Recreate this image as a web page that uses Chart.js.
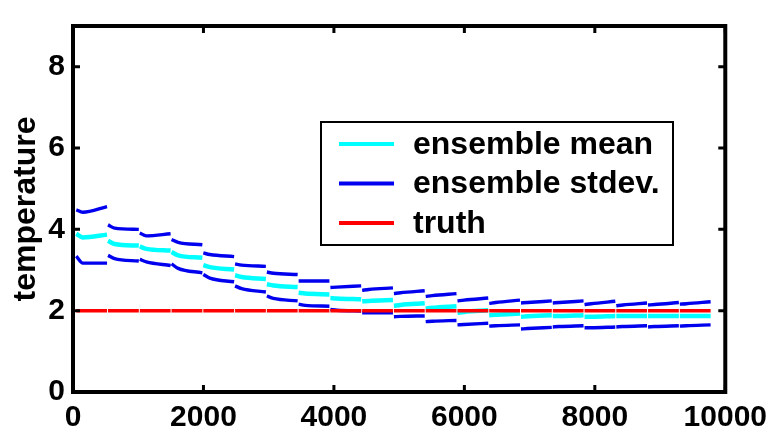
<!DOCTYPE html>
<html>
<head>
<meta charset="utf-8">
<script src="https://cdn.jsdelivr.net/npm/chart.js@4"></script>
<style>
  html, body { margin: 0; padding: 0; background: #fff; }
  #wrap { width: 775px; height: 438px; }
</style>
</head>
<body>
<div id="wrap"><canvas id="tempChart" width="775" height="438"></canvas></div>
<script>
// analysis cycles: start time of every forecast segment
const cycleStart = [50, 537, 1024, 1511, 1998, 2485, 2972, 3459, 3946, 4433,
                    4920, 5407, 5894, 6381, 6868, 7355, 7842, 8329, 8816, 9303];
// times inside one segment where the values were read
const sampleOffset = [0, 100, 472];

// ensemble mean, read at [start, +100, end] of each segment
const meanValues = [
    [3.89, 3.80, 3.87], [3.72, 3.64, 3.60], [3.58, 3.52, 3.48], [3.44, 3.36, 3.30],
    [3.12, 3.07, 3.01], [2.87, 2.83, 2.78], [2.65, 2.62, 2.58], [2.44, 2.42, 2.40],
    [2.31, 2.30, 2.28], [2.23, 2.24, 2.26], [2.12, 2.14, 2.18], [2.05, 2.07, 2.11],
    [1.95, 1.97, 2.01], [1.89, 1.90, 1.93], [1.85, 1.86, 1.89], [1.87, 1.87, 1.89],
    [1.85, 1.85, 1.87], [1.87, 1.87, 1.87], [1.87, 1.87, 1.87], [1.87, 1.87, 1.87]
];
// mean + stdev
const upperValues = [
    [4.48, 4.42, 4.56], [4.11, 4.03, 4.00], [3.91, 3.84, 3.89], [3.75, 3.68, 3.62],
    [3.42, 3.38, 3.33], [3.15, 3.12, 3.09], [2.95, 2.92, 2.89], [2.73, 2.73, 2.73],
    [2.57, 2.58, 2.61], [2.50, 2.52, 2.56], [2.42, 2.44, 2.49], [2.35, 2.37, 2.42],
    [2.24, 2.26, 2.31], [2.18, 2.20, 2.26], [2.19, 2.20, 2.24], [2.19, 2.20, 2.24],
    [2.15, 2.17, 2.23], [2.12, 2.14, 2.19], [2.14, 2.15, 2.20], [2.16, 2.17, 2.22]
];
// mean - stdev
const lowerValues = [
    [3.34, 3.17, 3.17], [3.36, 3.28, 3.22], [3.26, 3.20, 3.11], [3.15, 3.04, 2.93],
    [2.89, 2.80, 2.71], [2.61, 2.54, 2.46], [2.36, 2.30, 2.24], [2.16, 2.13, 2.11],
    [2.03, 2.01, 1.99], [1.95, 1.95, 1.95], [1.85, 1.86, 1.87], [1.73, 1.74, 1.76],
    [1.65, 1.66, 1.69], [1.62, 1.63, 1.65], [1.55, 1.56, 1.59], [1.60, 1.61, 1.63],
    [1.58, 1.58, 1.60], [1.60, 1.61, 1.63], [1.60, 1.61, 1.63], [1.62, 1.63, 1.65]
];
// true state in every segment
const truthValues = [2, 2, 2, 2, 2, 2, 2, 2, 2, 2, 2, 2, 2, 2, 2, 2, 2, 2, 2, 2];

const xTicks = [0, 2000, 4000, 6000, 8000, 10000];
const yTicks = [0, 2, 4, 6, 8];

const FONT = '"Liberation Sans", Arial, Helvetica, sans-serif';

// one point list per series, segments split by a null point
function segmentPoints(values) {
    const pts = [];
    values.forEach((seg, k) => {
        const vals = Array.isArray(seg) ? seg : [seg, seg, seg];
        sampleOffset.forEach((off, j) => {
            pts.push({ x: cycleStart[k] + off, y: vals[j] });
        });
        pts.push({ x: cycleStart[k] + sampleOffset[sampleOffset.length - 1] + 1, y: null });
    });
    return pts;
}

// box, inward ticks (MATLAB style) and legend
const framePlugin = {
    id: 'frame',
    afterDraw(chart) {
        const { ctx, chartArea: a, scales } = chart;
        ctx.save();
        ctx.strokeStyle = '#000';
        ctx.lineWidth = 4;
        ctx.strokeRect(a.left, a.top, a.right - a.left, a.bottom - a.top);

        ctx.lineWidth = 3;
        const tl = 7;
        ctx.beginPath();
        xTicks.forEach(v => {
            const px = scales.x.getPixelForValue(v);
            ctx.moveTo(px, a.bottom); ctx.lineTo(px, a.bottom - tl);
            ctx.moveTo(px, a.top); ctx.lineTo(px, a.top + tl);
        });
        yTicks.forEach(v => {
            const py = scales.y.getPixelForValue(v);
            ctx.moveTo(a.left, py); ctx.lineTo(a.left + tl, py);
            ctx.moveTo(a.right, py); ctx.lineTo(a.right - tl, py);
        });
        ctx.stroke();

        // legend box
        const box = { x: 321, y: 122, w: 352, h: 123 };
        ctx.fillStyle = '#fff';
        ctx.fillRect(box.x, box.y, box.w, box.h);
        ctx.lineWidth = 2;
        ctx.strokeRect(box.x, box.y, box.w, box.h);

        const entries = chart.data.datasets.filter(d => !d.hideInLegend);
        entries.sort((p, q) => p.legendRank - q.legendRank);
        ctx.font = 'bold 32px ' + FONT;
        ctx.textBaseline = 'middle';
        ctx.textAlign = 'left';
        entries.forEach((d, i) => {
            const y = box.y + 22 + i * 39.5;
            ctx.strokeStyle = d.borderColor;
            ctx.lineWidth = 4;
            ctx.beginPath();
            ctx.moveTo(box.x + 18, y);
            ctx.lineTo(box.x + 73, y);
            ctx.stroke();
            ctx.fillStyle = '#000';
            ctx.fillText(d.label, box.x + 92, y + 1);
        });
        ctx.restore();
    }
};

new Chart(document.getElementById('tempChart'), {
    type: 'line',
    data: {
        datasets: [
            {
                label: 'ensemble mean',
                data: segmentPoints(meanValues),
                borderColor: '#00ffff',
                borderWidth: 4.5,
                order: 3,
                legendRank: 0
            },
            {
                label: 'ensemble stdev.',
                data: segmentPoints(upperValues),
                borderColor: '#0000ee',
                borderWidth: 3.4,
                order: 2,
                legendRank: 1
            },
            {
                label: 'ensemble stdev.',
                data: segmentPoints(lowerValues),
                borderColor: '#0000ee',
                borderWidth: 3.4,
                order: 2,
                hideInLegend: true
            },
            {
                label: 'truth',
                data: segmentPoints(truthValues),
                borderColor: '#ff0000',
                borderWidth: 3.5,
                order: 1,
                legendRank: 2
            }
        ]
    },
    options: {
        responsive: false,
        animation: false,
        devicePixelRatio: 1,
        spanGaps: false,
        layout: { padding: { top: 10, right: 49, left: 0, bottom: 0 } },
        elements: {
            point: { radius: 0 },
            line: { cubicInterpolationMode: 'monotone', borderCapStyle: 'butt' }
        },
        plugins: {
            legend: { display: false },
            tooltip: { enabled: false }
        },
        scales: {
            x: {
                type: 'linear',
                min: 0,
                max: 10000,
                afterFit: s => { s.height = 46; },
                afterBuildTicks: s => { s.ticks = xTicks.map(v => ({ value: v })); },
                grid: { display: false, drawTicks: false },
                border: { display: false },
                ticks: {
                    color: '#000',
                    padding: 8,
                    maxRotation: 0,
                    autoSkip: false,
                    callback: v => String(v),
                    font: { family: FONT, size: 30, weight: 'bold' }
                }
            },
            y: {
                type: 'linear',
                min: 0,
                max: 9,
                afterFit: s => { s.width = 73; },
                afterBuildTicks: s => { s.ticks = yTicks.map(v => ({ value: v })); },
                grid: { display: false, drawTicks: false },
                border: { display: false },
                ticks: {
                    color: '#000',
                    padding: 8,
                    callback: v => String(v),
                    font: { family: FONT, size: 30, weight: 'bold' }
                },
                title: {
                    display: true,
                    text: 'temperature',
                    color: '#000',
                    padding: { top: 7, bottom: 0 },
                    font: { family: FONT, size: 32, weight: 'bold' }
                }
            }
        }
    },
    plugins: [framePlugin]
});
</script>
</body>
</html>
